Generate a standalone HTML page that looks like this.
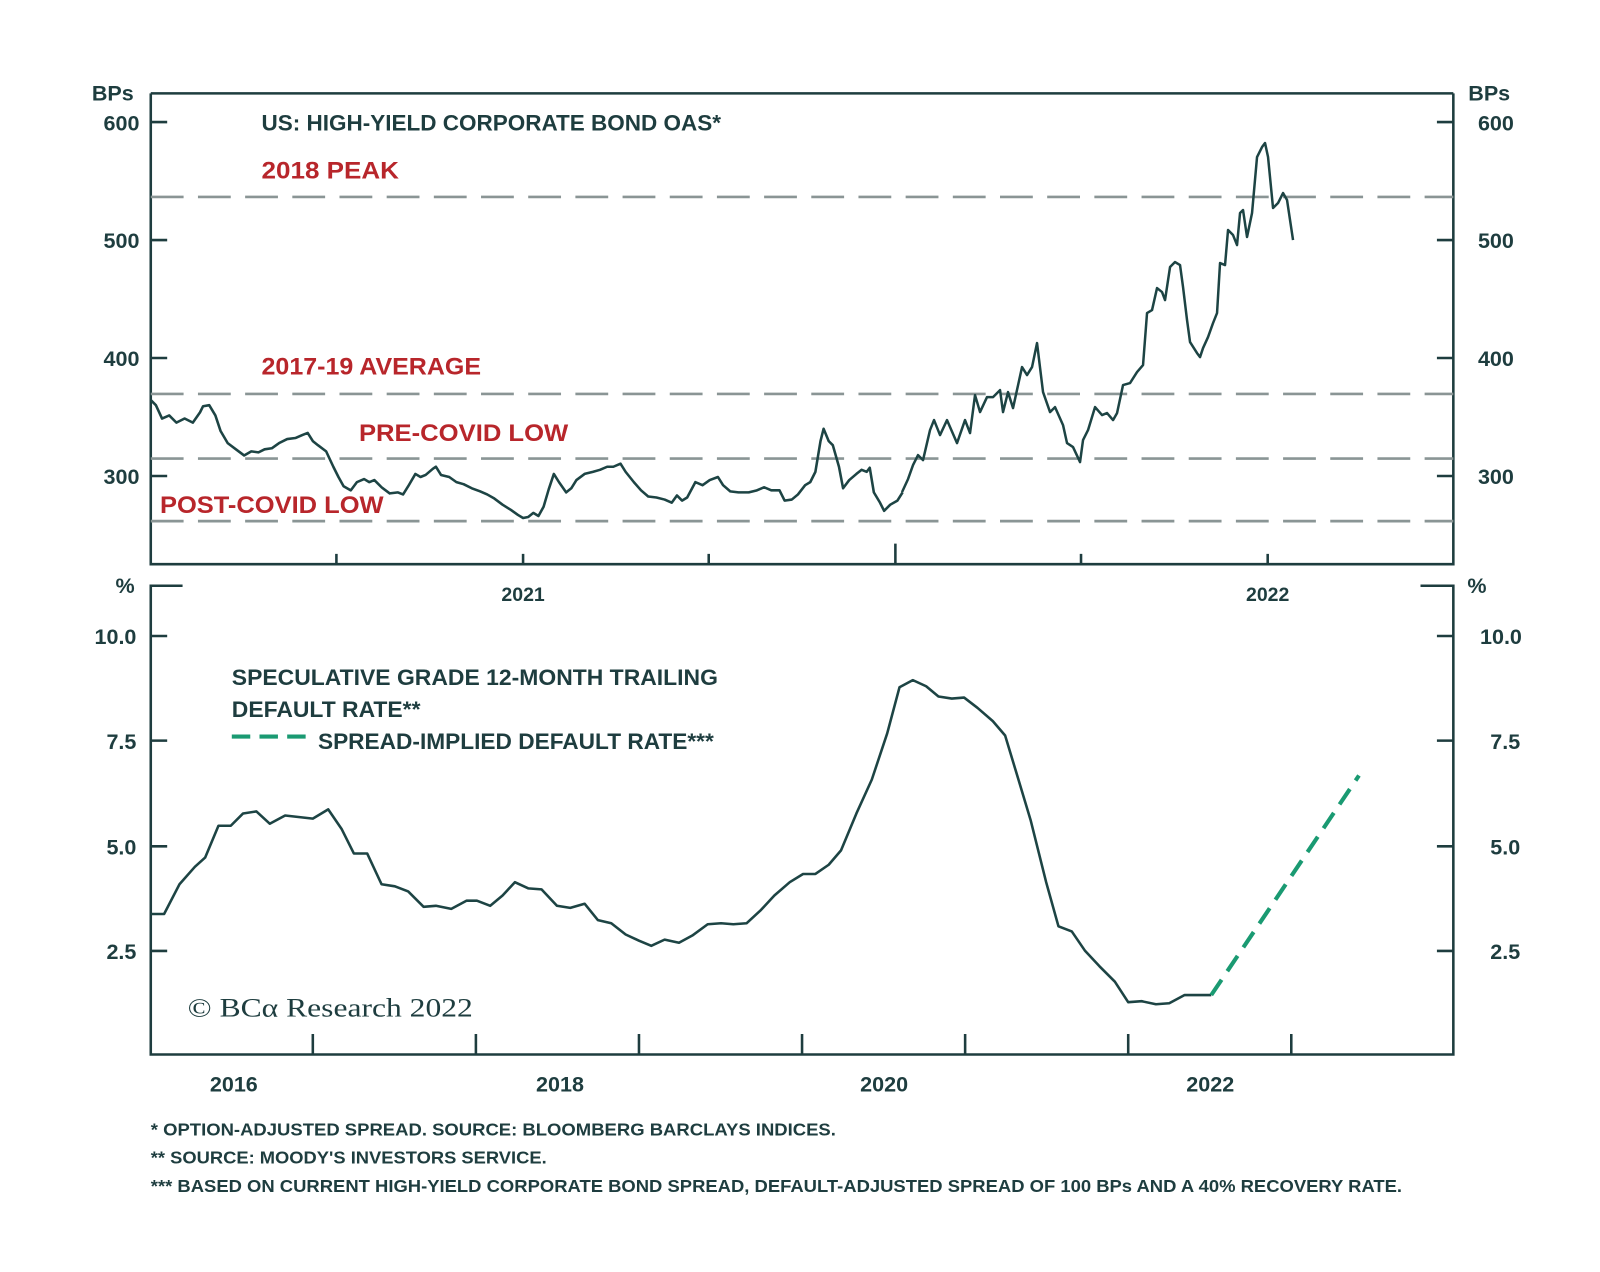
<!DOCTYPE html>
<html><head><meta charset="utf-8"><style>
html,body{margin:0;padding:0;background:#fff;}
svg{display:block;}
text{font-family:"Liberation Sans",sans-serif;font-weight:bold;fill:#1e3d3f;}
.r{fill:#b8262b;}
</style></head><body>
<svg width="1600" height="1272" viewBox="0 0 1560 1240" preserveAspectRatio="none" xmlns="http://www.w3.org/2000/svg">
<rect width="1560" height="1240" fill="#fff"/>
<!-- TOP PANEL -->
<g stroke="#1e3d3f" stroke-width="2.5" fill="none">
<polyline points="147,91 1417,91"/>
<polyline points="147,91 147,550 1417,550 1417,91"/>
<path d="M147,119h16M147,234h16M147,349h16M147,464h16M1401,119h16M1401,234h16M1401,349h16M1401,464h16"/>
<path d="M328,550v-10M510,550v-10M691,550v-10M873,550v-20M1054,550v-10M1236,550v-10"/>
</g>
<g stroke="#8a9595" stroke-width="2.6" stroke-dasharray="32,14" fill="none">
<path d="M147,192H1417M147,384H1417M147,447H1417M147,508H1417"/>
</g>
<g fill="none" stroke="#1d4444" stroke-width="2.5" stroke-linejoin="round">
<polyline points="147,390 152,395 158,408 165,405 172,412 180,408 188,412 195,402 198,396 204,395 210,405 215,420 222,432 230,438 238,444 245,440 252,441 258,438 265,437 272,432 280,428 288,427 295,424 300,422 305,430 310,434 318,440 325,455 330,465 335,474 342,478 348,470 355,467 360,470 365,468 372,475 380,481 388,480 393,482 398,474 405,462 410,465 415,463 422,457 425,455 430,463 438,465 445,470 452,472 460,476 468,479 475,482 482,486 490,492 498,497 505,502 510,505 515,504 520,500 525,503 530,494 535,477 540,462 545,470 552,480 557,476 562,468 570,462 578,460 585,458 592,455 598,455 605,452 610,460 618,470 625,478 632,484 640,485 648,487 655,490 660,483 665,488 670,485 678,470 685,473 692,468 700,465 705,473 712,479 720,480 730,480 738,478 745,475 752,478 760,478 765,488 772,487 778,482 785,473 790,470 795,460 800,430 803,418 808,430 812,434 818,455 822,476 828,468 835,462 840,458 845,460 848,456 852,480 858,490 862,498 868,492 875,488 880,480"/>
<g transform="scale(0.97503)">
<polyline points="902,492 908,479 913,465 918,455 923,460 930,430 934,420 940,435 947,420 957,443 965,420 970,433 975,395 980,412 987,397 993,397 1000,390 1003,412 1008,392 1013,408 1022,367 1027,375 1032,367 1037,343 1043,392 1050,412 1055,407 1063,425 1067,443 1073,447 1080,462 1083,440 1088,430 1095,407 1102,415 1107,413 1113,420 1117,413 1123,385 1130,383 1137,372 1143,365 1147,313 1152,310 1157,288 1162,292 1165,300 1170,267 1175,262 1180,265 1183,287 1187,320 1190,342 1197,353 1200,357 1203,348 1208,337 1213,323 1217,313 1220,263 1225,265 1228,230 1233,235 1237,245 1240,213 1243,210 1247,237 1252,213 1257,157 1262,147 1265,143 1268,157 1273,208 1278,203 1283,193 1287,200 1293,240"/>
</g>
</g>
<g font-size="21">
<text x="110" y="98" text-anchor="middle">BPs</text>
<text x="136" y="127" text-anchor="end">600</text>
<text x="136" y="242" text-anchor="end">500</text>
<text x="136" y="357" text-anchor="end">400</text>
<text x="136" y="472" text-anchor="end">300</text>
<text x="1452" y="98" text-anchor="middle">BPs</text>
<text x="1441" y="127">600</text>
<text x="1441" y="242">500</text>
<text x="1441" y="357">400</text>
<text x="1441" y="472">300</text>
<text x="510" y="586" text-anchor="middle" font-size="19">2021</text>
<text x="1236" y="586" text-anchor="middle" font-size="19">2022</text>
</g>
<text x="255" y="127" font-size="22" textLength="448" lengthAdjust="spacingAndGlyphs">US: HIGH-YIELD CORPORATE BOND OAS*</text>
<text class="r" x="255" y="174" font-size="23" textLength="134" lengthAdjust="spacingAndGlyphs">2018 PEAK</text>
<text class="r" x="255" y="365" font-size="23" textLength="214" lengthAdjust="spacingAndGlyphs">2017-19 AVERAGE</text>
<text class="r" x="350" y="430" font-size="23" textLength="204" lengthAdjust="spacingAndGlyphs">PRE-COVID LOW</text>
<text class="r" x="156" y="500" font-size="23" textLength="218" lengthAdjust="spacingAndGlyphs">POST-COVID LOW</text>
<!-- BOTTOM PANEL -->
<g stroke="#1e3d3f" stroke-width="2.5" fill="none">
<path d="M178,571H147V1028H1417V571H1385"/>
<path d="M147,620h16M147,722h16M147,825h16M147,927h16M1401,620h16M1401,722h16M1401,825h16M1401,927h16"/>
<path d="M305,1028v-20M464,1028v-20M623,1028v-20M782,1028v-20M941,1028v-20M1100,1028v-20M1259,1028v-20"/>
</g>
<polyline fill="none" stroke="#1d4444" stroke-width="2.5" stroke-linejoin="round" points="147,891 160,891 175,862 190,845 200,836 213,805 225,805 237,793 250,791 263,803 278,795 305,798 320,789 333,808 345,832 358,832 372,862 385,864 398,869 413,884 425,883 440,886 455,878 465,878 478,883 490,873 502,860 515,866 528,867 543,883 556,885 570,881 583,897 596,900 610,911 623,917 635,922 648,916 662,919 675,912 690,901 703,900 715,901 728,900 742,887 755,873 770,860 783,852 795,852 808,843 820,829 835,793 850,760 865,715 877,670 890,663 903,669 915,679 928,681 940,680 953,690 968,703 980,717 993,760 1005,800 1020,860 1032,903 1045,908 1058,927 1072,942 1087,957 1100,977 1113,976 1127,979 1140,978 1155,970 1168,970 1181,970"/>
<line x1="1181" y1="970" x2="1325" y2="756" stroke="#1a9a72" stroke-width="4" stroke-dasharray="18,10"/>
<line x1="226" y1="718" x2="298" y2="718" stroke="#1a9a72" stroke-width="4" stroke-dasharray="18,9"/>
<g font-size="21">
<text x="122" y="578" text-anchor="middle">%</text>
<text x="133" y="628" text-anchor="end">10.0</text>
<text x="133" y="730" text-anchor="end">7.5</text>
<text x="133" y="833" text-anchor="end">5.0</text>
<text x="133" y="935" text-anchor="end">2.5</text>
<text x="1440" y="578" text-anchor="middle">%</text>
<text x="1443" y="628">10.0</text>
<text x="1453" y="730">7.5</text>
<text x="1453" y="833">5.0</text>
<text x="1453" y="935">2.5</text>
<text x="228" y="1064" text-anchor="middle">2016</text>
<text x="546" y="1064" text-anchor="middle">2018</text>
<text x="862" y="1064" text-anchor="middle">2020</text>
<text x="1180" y="1064" text-anchor="middle">2022</text>
</g>
<text x="226" y="668" font-size="22" textLength="474" lengthAdjust="spacingAndGlyphs">SPECULATIVE GRADE 12-MONTH TRAILING</text>
<text x="226" y="699" font-size="22" textLength="184" lengthAdjust="spacingAndGlyphs">DEFAULT RATE**</text>
<text x="310" y="730" font-size="22" textLength="386" lengthAdjust="spacingAndGlyphs">SPREAD-IMPLIED DEFAULT RATE***</text>
<text x="183" y="991" font-size="26" style="font-family:'Liberation Serif',serif;font-weight:normal" textLength="278" lengthAdjust="spacingAndGlyphs">© BCα Research 2022</text>
<g font-size="17">
<text x="147" y="1107" textLength="668" lengthAdjust="spacingAndGlyphs">*  OPTION-ADJUSTED SPREAD. SOURCE: BLOOMBERG BARCLAYS INDICES.</text>
<text x="147" y="1134" textLength="386" lengthAdjust="spacingAndGlyphs">**  SOURCE: MOODY'S INVESTORS SERVICE.</text>
<text x="147" y="1162" textLength="1220" lengthAdjust="spacingAndGlyphs">***  BASED ON CURRENT HIGH-YIELD CORPORATE BOND SPREAD, DEFAULT-ADJUSTED SPREAD OF 100 BPs AND A 40% RECOVERY RATE.</text>
</g>
</svg>
</body></html>
